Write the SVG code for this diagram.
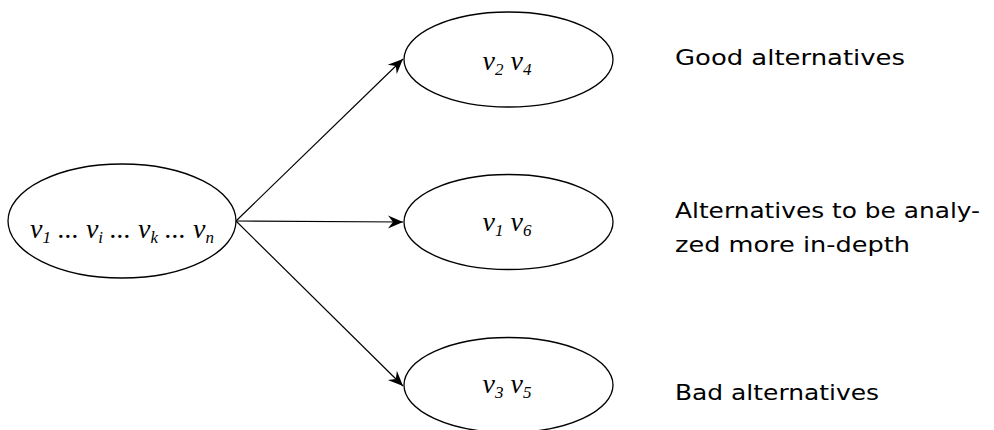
<svg xmlns="http://www.w3.org/2000/svg" width="994" height="430" viewBox="0 0 994 430">
<defs>
<style>
.node ellipse{fill:#fff;stroke:#000;stroke-width:1.3}
.v{font-family:"Liberation Serif",serif;font-style:italic;font-size:28px;fill:#000}
.s{font-size:17px}
.lbl{font-family:"DejaVu Sans","Liberation Sans",sans-serif;font-size:22px;fill:#000}
.edge{stroke:#000;stroke-width:1.2;fill:none;marker-end:url(#ah)}
</style>
<marker id="ah" markerUnits="userSpaceOnUse" markerWidth="20" markerHeight="16" viewBox="-16 -8 20 16" refX="0" refY="0" orient="auto">
<path d="M0,0 L-15,-6.5 L-10,0 L-15,6.5 Z" fill="#000"/>
</marker>
</defs>
<g id="edges">
<line class="edge" x1="236" y1="221" x2="403" y2="59"/>
<line class="edge" x1="236" y1="221" x2="403" y2="222"/>
<line class="edge" x1="236" y1="221" x2="403" y2="386"/>
</g>
<g id="n0" class="node">
<ellipse cx="122" cy="221" rx="114" ry="57"/>
<text class="v" x="122" y="238" text-anchor="middle">v<tspan class="s" dy="5">1</tspan><tspan dy="-5"> ... v</tspan><tspan class="s" dy="5">i</tspan><tspan dy="-5"> ... v</tspan><tspan class="s" dy="5">k</tspan><tspan dy="-5"> ... v</tspan><tspan class="s" dy="5">n</tspan></text>
</g>
<g id="n1" class="node">
<ellipse cx="508.5" cy="59.5" rx="104.5" ry="47.5"/>
<text class="v" x="507" y="70" text-anchor="middle">v<tspan class="s" dy="5">2</tspan><tspan dy="-5"> v</tspan><tspan class="s" dy="5">4</tspan></text>
</g>
<g id="n2" class="node">
<ellipse cx="508.5" cy="222" rx="104.5" ry="47.5"/>
<text class="v" x="507" y="231" text-anchor="middle">v<tspan class="s" dy="5">1</tspan><tspan dy="-5"> v</tspan><tspan class="s" dy="5">6</tspan></text>
</g>
<g id="n3" class="node">
<ellipse cx="508.5" cy="385" rx="104.5" ry="47.5"/>
<text class="v" x="507" y="393" text-anchor="middle">v<tspan class="s" dy="5">3</tspan><tspan dy="-5"> v</tspan><tspan class="s" dy="5">5</tspan></text>
</g>
<g id="labels">
<text class="lbl" x="675" y="65" textLength="230" lengthAdjust="spacingAndGlyphs">Good alternatives</text>
<text class="lbl" x="675" y="218" textLength="305" lengthAdjust="spacingAndGlyphs">Alternatives to be analy-</text>
<text class="lbl" x="675" y="252" textLength="235" lengthAdjust="spacingAndGlyphs">zed more in-depth</text>
<text class="lbl" x="675" y="400" textLength="204" lengthAdjust="spacingAndGlyphs">Bad alternatives</text>
</g>
</svg>
